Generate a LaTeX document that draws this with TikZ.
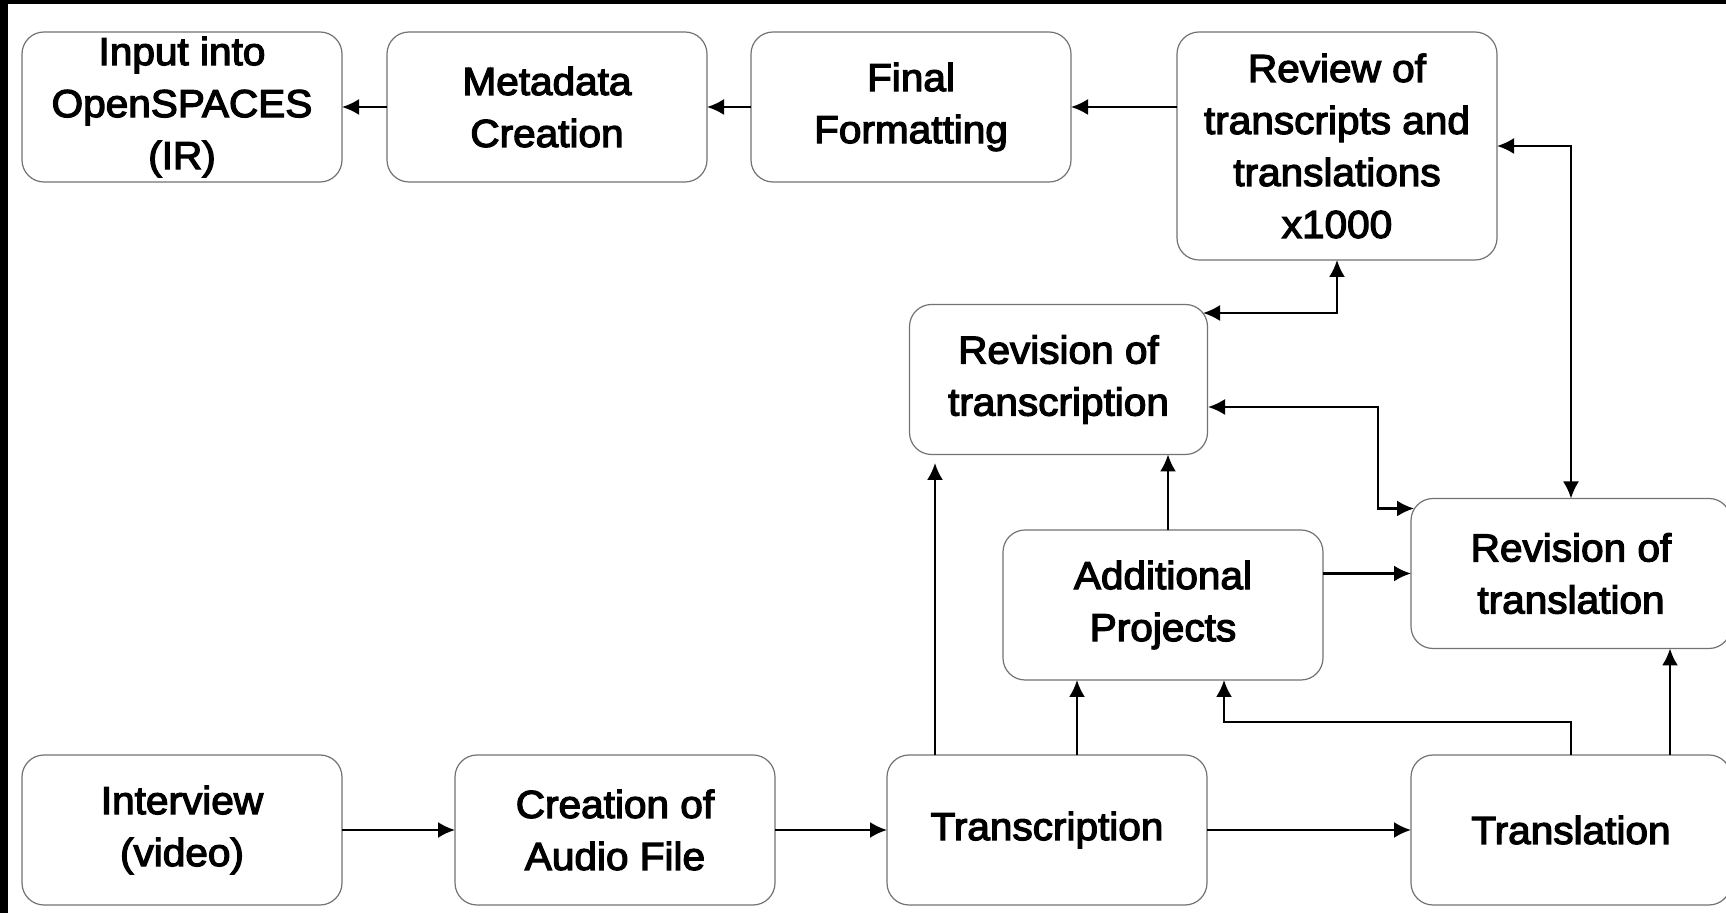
\documentclass[tikz,border=0pt]{standalone}
\usepackage{fontspec}
\setmainfont[FakeStretch=1.04,FakeBold=3.2]{Liberation Sans}
\usetikzlibrary{arrows.meta}
\begin{document}
\begin{tikzpicture}[x=0.5pt,y=-0.5pt,
  box/.style={draw=black!55, line width=0.6pt, rounded corners=11pt, fill=white,
    minimum width=160pt, minimum height=75pt, inner sep=0pt, outer sep=0pt,
    align=center, font=\fontsize{19.5}{26}\selectfont},
  tip/.tip={Latex[length=8.5pt,width=8pt]},
  conn/.style={line width=1.1pt, -tip},
  bconn/.style={line width=1.1pt, tip-tip}]

\useasboundingbox (0,0) rectangle (1726,913);
\fill[white] (0,0) rectangle (1726,913);
\fill[black] (0,0) rectangle (1726,4.5);
\fill[black] (0,0) rectangle (8,913);

% top row
\node[box] (input) at (182,107) {Input into\\OpenSPACES\\(IR)};
\node[box] (meta) at (547,107) {Metadata\\Creation};
\node[box] (final) at (911,107) {Final\\Formatting};
\node[box, minimum height=114pt] (review) at (1337,146) {Review of\\transcripts and\\translations\\x1000};

% middle
\node[box, minimum width=149pt] (revts) at (1058.5,379.5) {Revision of\\transcription};
\node[box] (addl) at (1163,605) {Additional\\Projects};
\node[box] (revtl) at (1571,573.5) {Revision of\\translation};

% bottom row
\node[box] (interview) at (182,830) {Interview\\(video)};
\node[box] (audio) at (615,830) {Creation of\\Audio File};
\node[box] (trans) at (1047,830) {Transcription};
\node[box] (transl) at (1571,830) {Translation};

% helper coordinates
\coordinate (xa) at (935,0);
\coordinate (xb) at (1168,0);
\coordinate (xc) at (1077,0);
\coordinate (xd) at (1670,0);
\coordinate (c1) at (1203,313);
\coordinate (c2) at (1208,407);
\coordinate (c3) at (1414,508.5);
\coordinate (c4) at (935,463);
\coordinate (k1) at (1378,407);
\coordinate (k2) at (1378,508.5);
\coordinate (k3) at (1571,722);
\coordinate (k4) at (1224,722);
\coordinate (xe) at (1224,0);

% connectors
\draw[conn] (meta.west) -- (input.east);
\draw[conn] (final.west) -- (meta.east);
\draw[conn] (final.east -| review.west) -- (final.east);
\draw[bconn] (review.east) -| (revtl.north);
\draw[bconn] (c1) -| (review.south);
\draw[bconn] (c2) -- (k1) -- (k2) -- (c3);
\draw[conn] (trans.north -| xa) -- (c4);
\draw[conn] (addl.north -| xb) -- (revts.south -| xb);
\draw[conn] (addl.east |- revtl.west) -- (revtl.west);
\draw[conn] (trans.north -| xc) -- (addl.south -| xc);
\draw[conn] (transl.north) -- (k3) -- (k4) -- (addl.south -| xe);
\draw[conn] (transl.north -| xd) -- (revtl.south -| xd);
\draw[conn] (interview.east) -- (audio.west);
\draw[conn] (audio.east) -- (trans.west);
\draw[conn] (trans.east) -- (transl.west);
\end{tikzpicture}
\end{document}
